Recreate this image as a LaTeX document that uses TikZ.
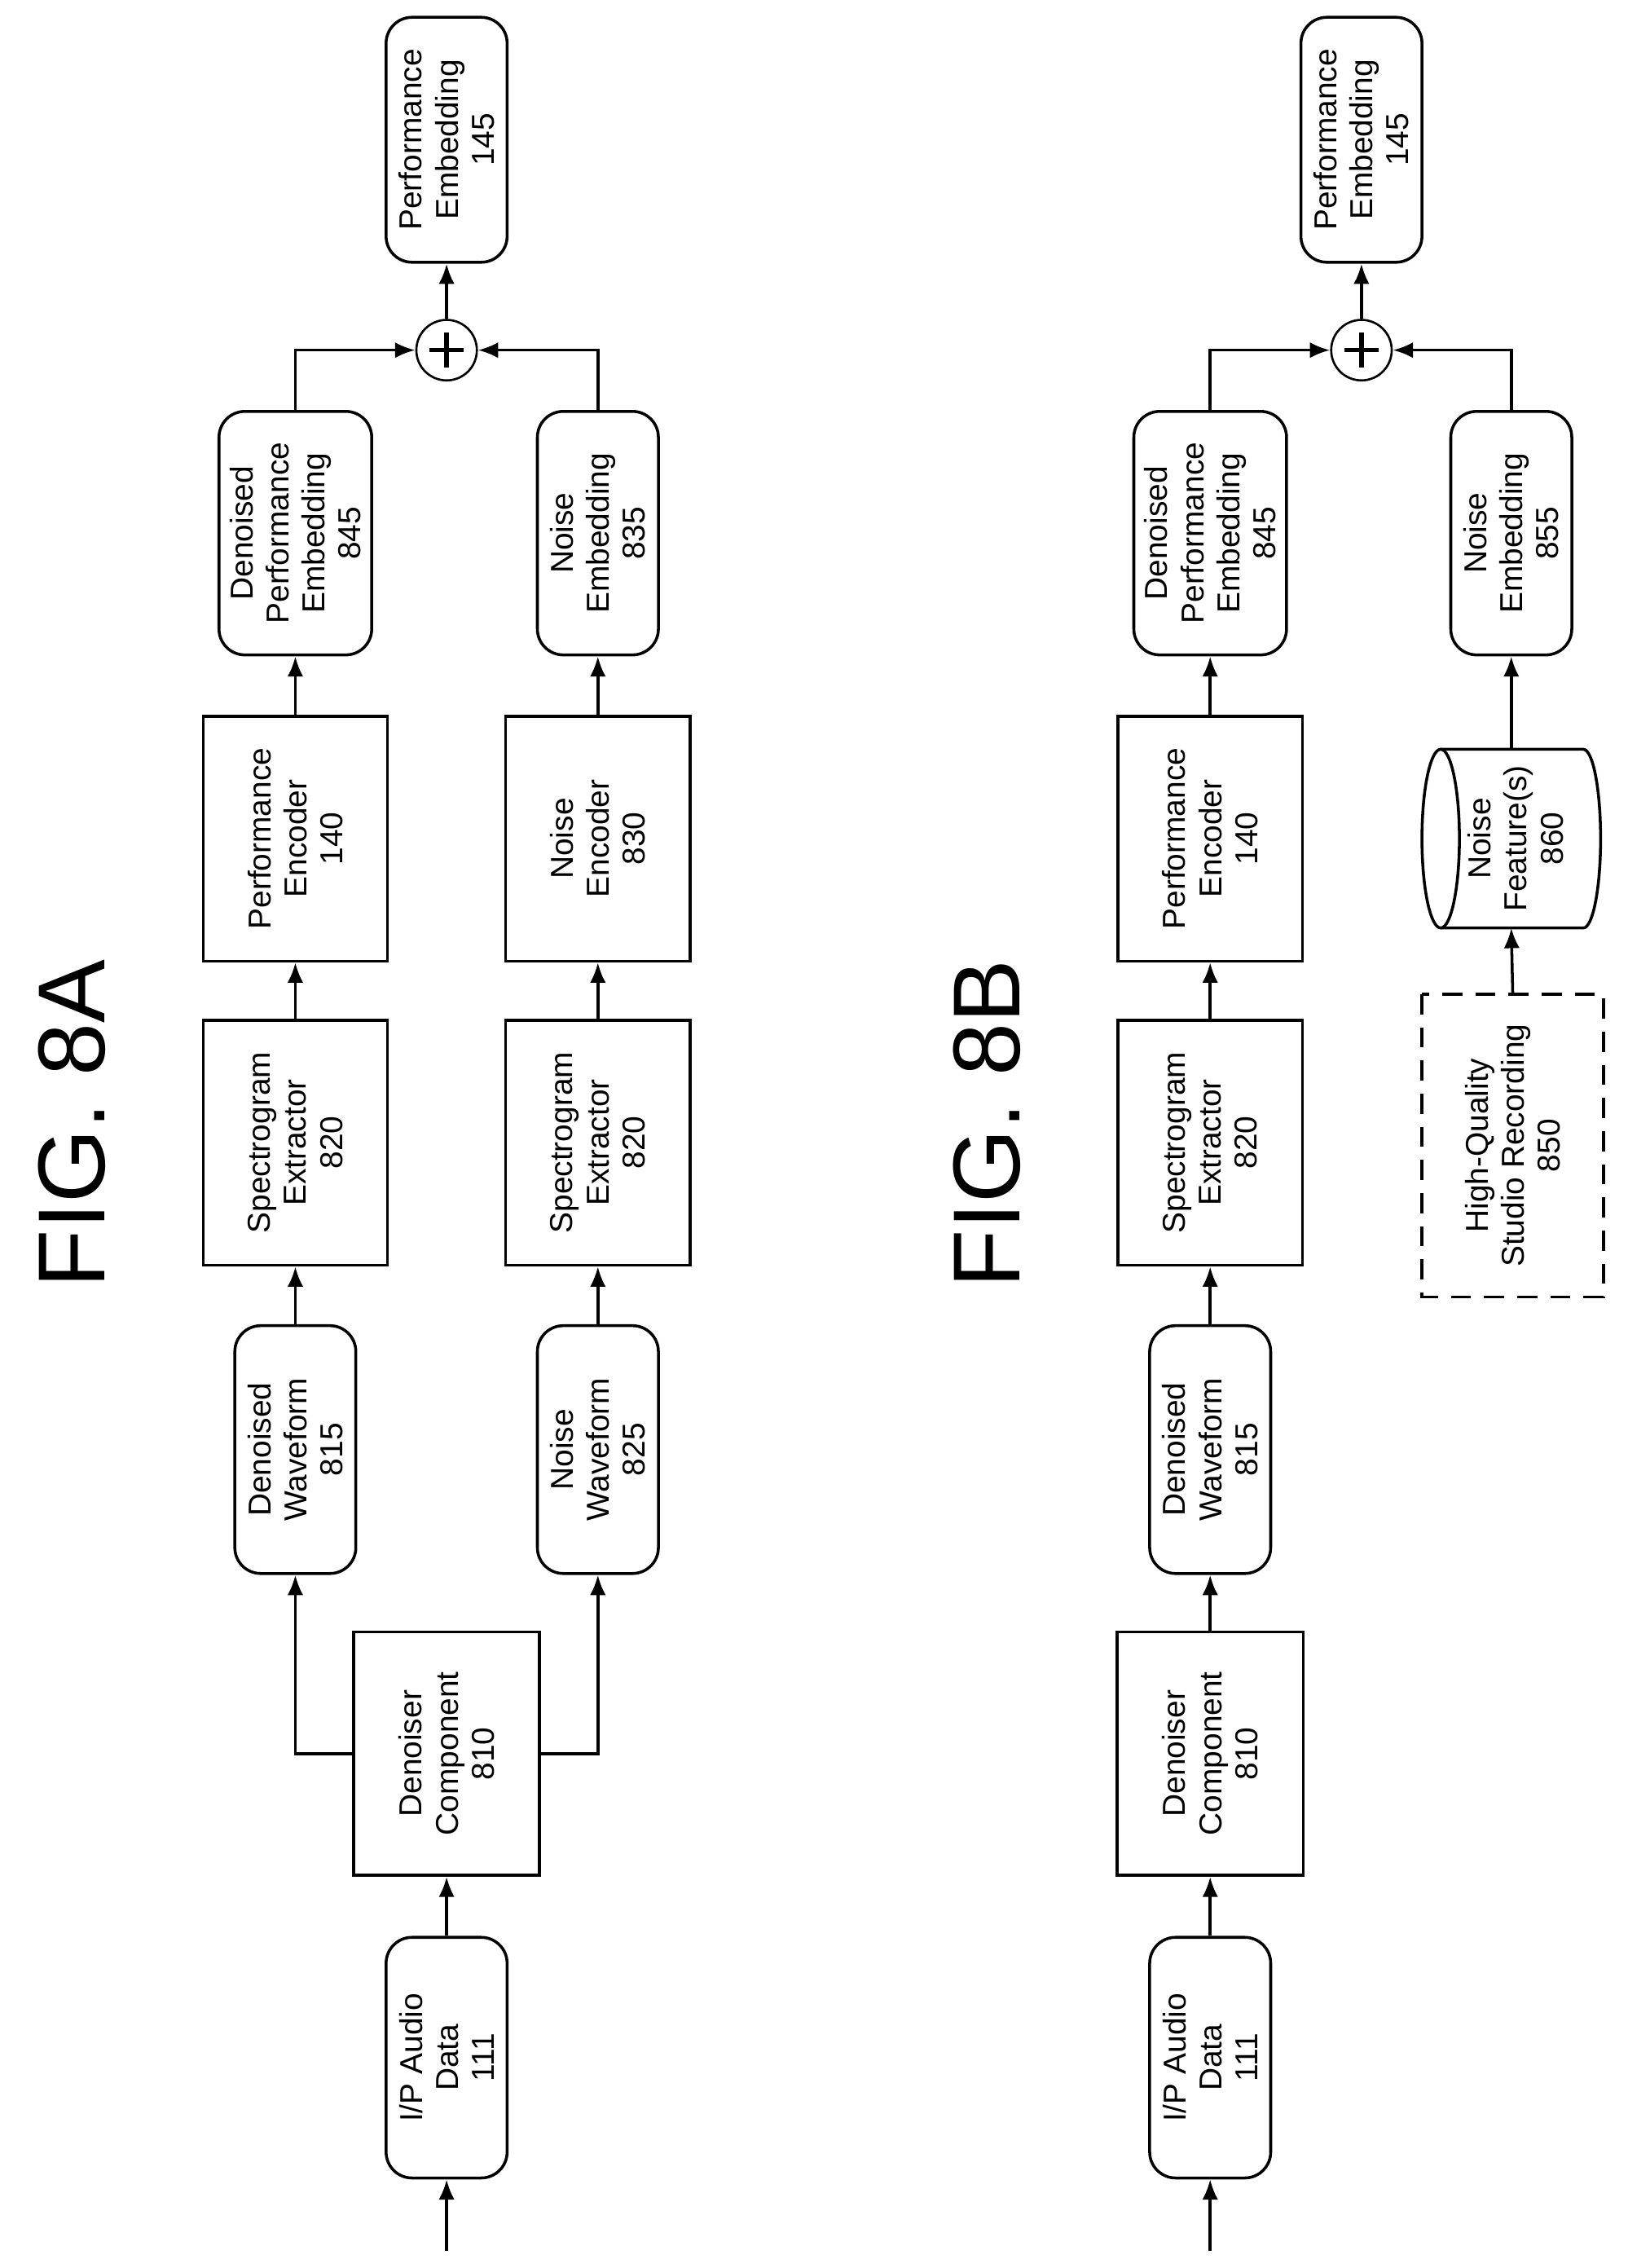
\documentclass[tikz,border=0pt]{standalone}
\usepackage{fontspec}
\setmainfont{Liberation Sans}
\usetikzlibrary{arrows.meta}
\begin{document}
\begin{tikzpicture}[x=1pt,y=-1pt,
  base/.style={draw,line width=2pt,rotate=90,align=center,font=\fontsize{22}{25}\selectfont,inner sep=0pt},
  rbox/.style={base,rounded corners=18pt},
  sbox/.style={base},
  arr/.style={line width=2pt,-{Latex[length=14pt,width=11pt]}},
  ln/.style={line width=2pt},
  fig/.style={rotate=90,font=\fontsize{66}{70}\selectfont}]
\useasboundingbox (0,0) rectangle (1130,1574);
\foreach \o/\t/\c in {0/A/310,635/B/205}{
\begin{scope}[xshift=\o pt]
\node[fig] (fig\t) at (50,780) {FIG. 8\t};
\coordinate (in\t) at (\c,1562);
\node[rbox,minimum width=167pt,minimum height=84pt] (ip\t) at (\c,1428) {I/P Audio\\Data\\111};
\node[sbox,minimum width=169pt,minimum height=129pt] (den\t) at (\c,1217) {Denoiser\\Component\\810};
\node[rbox,minimum width=172pt,minimum height=84pt] (dw\t) at (205,1006) {Denoised\\Waveform\\815};
\node[sbox,minimum width=170pt,minimum height=128pt] (sp\t) at (205,793) {Spectrogram\\Extractor\\820};
\node[sbox,minimum width=170pt,minimum height=128pt] (pe\t) at (205,582) {Performance\\Encoder\\140};
\node[rbox,minimum width=169pt,minimum height=106pt] (dpe\t) at (205,370) {Denoised\\Performance\\Embedding\\845};
\node[draw,circle,line width=1.5pt,minimum size=42pt,inner sep=0pt] (plus\t) at (310,243) {};
\draw[line width=3pt] ([xshift=-12pt]plus\t.center) -- ([xshift=12pt]plus\t.center) ([yshift=-12pt]plus\t.center) -- ([yshift=12pt]plus\t.center);
\node[rbox,minimum width=170pt,minimum height=84pt] (out\t) at (310,97) {Performance\\Embedding\\145};
\draw[arr] (in\t) -- (ip\t.west);
\draw[arr] (ip\t.east) -- (den\t.west);
\draw[arr] (dw\t.east) -- (sp\t.west);
\draw[arr] (sp\t.east) -- (pe\t.west);
\draw[arr] (pe\t.east) -- (dpe\t.west);
\draw[arr] (dpe\t.east) |- (plus\t.west);
\draw[arr] (plus\t.north) -- (out\t.west);
\end{scope}}
% 8A specifics
\draw[arr] (denA.north) -| (dwA.west);
\node[rbox,minimum width=172pt,minimum height=84pt] (nw) at (415,1006) {Noise\\Waveform\\825};
\node[sbox,minimum width=170pt,minimum height=128pt] (sp2) at (415,793) {Spectrogram\\Extractor\\820};
\node[sbox,minimum width=170pt,minimum height=128pt] (ne) at (415,582) {Noise\\Encoder\\830};
\node[rbox,minimum width=169pt,minimum height=84pt] (nemb) at (415,370) {Noise\\Embedding\\835};
\draw[arr] (denA.south) -| (nw.west);
\draw[arr] (nw.east) -- (sp2.west);
\draw[arr] (sp2.east) -- (ne.west);
\draw[arr] (ne.east) -- (nemb.west);
\draw[arr] (nemb.east) |- (plusA.east);
% 8B specifics
\draw[arr] (denB.east) -- (dwB.west);
\node[sbox,dashed,dash pattern=on 14pt off 9pt,minimum width=210pt,minimum height=126pt] (hq) at (1050,795) {High-Quality\\Studio Recording\\850};
\coordinate (cylT) at (1049,520);
\coordinate (cylB) at (1049,644);
\draw[ln,fill=white] (1000,520) -- (1099,520) arc[start angle=-90,end angle=90,x radius=12pt,y radius=-62pt] -- (1000,644);
\draw[ln] (1000,582) ellipse[x radius=13pt,y radius=62pt];
\node[rotate=90,align=center,font=\fontsize{22}{25}\selectfont] (nf) at (1052,582) {Noise\\Feature(s)\\860};
\node[rbox,minimum width=169pt,minimum height=84pt] (nemb2) at (1049,370) {Noise\\Embedding\\855};
\draw[arr] (hq.east) -- (cylB);
\draw[arr] (cylT) -- (nemb2.west);
\draw[arr] (nemb2.east) |- (plusB.east);
\end{tikzpicture}
\end{document}
